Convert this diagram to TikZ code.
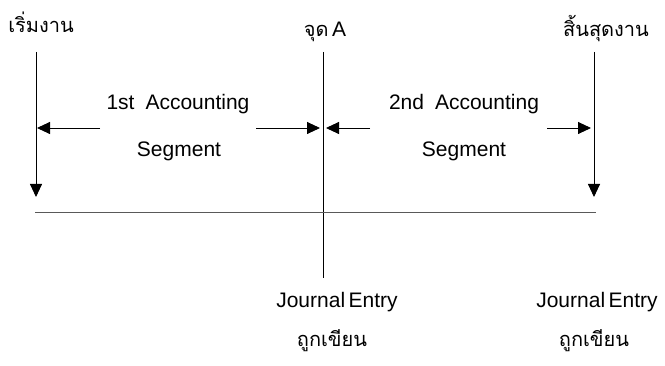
\documentclass[tikz,border=0pt]{standalone}
\usepackage{fontspec}
\setmainfont{Liberation Sans}
\newfontfamily\thaifont[Script=Thai]{Loma}
\usetikzlibrary{arrows.meta}
\begin{document}
\begin{tikzpicture}[x=1pt,y=-1pt,
  lbl/.style={anchor=base,inner sep=0pt,font=\fontsize{21}{24}\selectfont},
  thl/.style={anchor=base,inner sep=0pt,font=\thaifont\fontsize{20}{24}\selectfont},
  tick/.style={line width=0.9pt,-{Triangle[length=13pt,width=12pt]}},
  rule/.style={line width=0.9pt}]
\useasboundingbox (0,0) rectangle (665,366);
% labels above the time line
\node[thl] (start) at (41,33) {เริ่มงาน};
\node[thl] (pointA) at (325,37) {จุด\,{\rmfamily\fontsize{21}{24}\selectfont A}};
\node[thl] (finish) at (606,37) {สิ้นสุดงาน};
% vertical markers
\coordinate (s1) at (36,52);  \coordinate (s2) at (36,197);
\coordinate (a1) at (323,52); \coordinate (a2) at (323,278);
\coordinate (f1) at (594,52); \coordinate (f2) at (594,197);
\draw[tick] (s1) -- (s2);
\draw[rule] (a1) -- (a2);
\draw[tick] (f1) -- (f2);
% time line
\coordinate (t1) at (35,212); \coordinate (t2) at (596,212);
\draw[line width=0.9pt,black!65] (t1) -- (t2);
% segment labels
\node[lbl] (seg1a) at (178,110) {1st\hspace{11pt}Accounting};
\node[lbl] (seg1b) at (179,157) {Segment};
\node[lbl] (seg2a) at (464,110) {2nd\hspace{11pt}Accounting};
\node[lbl] (seg2b) at (464,157) {Segment};
% segment span arrows
\coordinate (l1) at (100,128); \coordinate (l2) at (37,128);
\coordinate (r1) at (256,128); \coordinate (r2) at (320,128);
\coordinate (m1) at (370,128); \coordinate (m2) at (326,128);
\coordinate (n1) at (547,128); \coordinate (n2) at (591,128);
\draw[tick] (l1) -- (l2);
\draw[tick] (r1) -- (r2);
\draw[tick] (m1) -- (m2);
\draw[tick] (n1) -- (n2);
% journal entries
\node[lbl] (je1) at (337,308) {Journal\,Entry};
\node[lbl] (je2) at (597,308) {Journal\,Entry};
\node[thl] (w1) at (332,347) {ถูกเขียน};
\node[thl] (w2) at (594,347) {ถูกเขียน};
\end{tikzpicture}
\end{document}
